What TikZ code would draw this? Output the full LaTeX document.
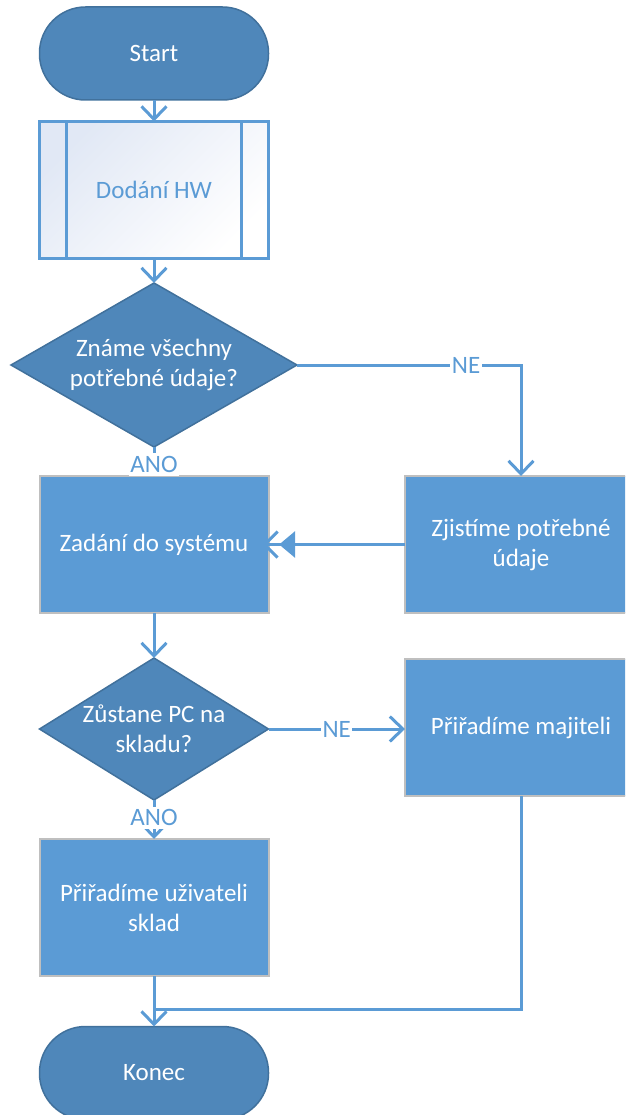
\documentclass[tikz,border=0pt]{standalone}
\usepackage{fontspec}
\setmainfont{Carlito}
\usetikzlibrary{shapes.geometric,arrows.meta}
\definecolor{conn}{HTML}{5B9BD5}
\definecolor{darkfill}{HTML}{4F87BA}
\definecolor{darkline}{HTML}{41719C}
\definecolor{procfill}{HTML}{5B9BD5}
\definecolor{procline}{HTML}{BFBFBF}
\definecolor{subtint}{HTML}{E1E8F5}

\begin{document}
\begin{tikzpicture}[x=1pt,y=-1pt,
  every node/.style={font=\fontsize{25}{30}\selectfont, align=center, inner sep=0pt, outer sep=0pt},
  terminal/.style={rectangle, rounded corners=46pt, fill=darkfill, draw=darkline,
    line width=1.5pt, minimum width=229pt, minimum height=93pt, text=white},
  process/.style={rectangle, fill=procfill, draw=procline, line width=2pt,
    minimum width=229pt, minimum height=137pt, text=white},
  subproc/.style={rectangle, draw=conn, line width=2.5pt, top color=subtint,
    bottom color=white, shading angle=45, minimum width=229pt, minimum height=137pt, text=conn},
  decision/.style={diamond, fill=darkfill, draw=darkline, line width=1.5pt},
  dectext/.style={text=white},
  plain/.style={draw=conn, line width=3pt},
  flow/.style={plain, -{Straight Barb[length=13pt,width=25pt]}},
  lbl/.style={fill=white, text=conn, inner xsep=1.5pt, inner ysep=3pt},
]
\useasboundingbox (0,0) rectangle (625,1115);
\clip (0,0) rectangle (625,1115);

% shapes
\node[terminal] (start) at (154,53.5) {Start};
\node[subproc] (dod) at (154,190) {Dodání HW};
\draw[conn, line width=2.5pt] ([xshift=27pt]dod.north west) -- ([xshift=27pt]dod.south west);
\draw[conn, line width=2.5pt] ([xshift=-27pt]dod.north east) -- ([xshift=-27pt]dod.south east);

\node[decision, minimum width=286pt, minimum height=164pt] (d1) at (154,365) {};
\node[dectext] (d1t) at (d1) {Známe všechny\\potřebné údaje?};

\node[process] (zad) at (154,544.5) {Zadání do systému};
\node[process, minimum width=232pt] (zj) at (521,544.5) {Zjistíme potřebné\\údaje};

\node[decision, minimum width=229pt, minimum height=142pt] (d2) at (154,729) {};
\node[dectext] (d2t) at (d2) {Zůstane PC na\\skladu?};

\node[process, minimum width=232pt] (pm) at (521,727.5) {Přiřadíme majiteli};
\node[process] (puz) at (154,907.5) {Přiřadíme uživateli\\sklad};

\node[terminal] (kon) at (154,1073) {Konec};
\coordinate (j) at (154,1009);

% connectors
\draw[flow] (start.south) -- (dod.north);
\draw[flow] (dod.south) -- (d1.north);
\draw[flow] (d1.south) -- node[lbl, pos=0.6] (ano1) {ANO} (zad.north);
\draw[flow] (d1.east) -- node[lbl, pos=0.755] (ne1) {NE} (d1.east -| zj.north) -- (zj.north);
\draw[plain, -{Triangle[length=16pt,width=26pt] Straight Barb[length=13pt,width=26pt,sep=-6pt]}]
  (zj.west) -- (zad.east);
\draw[flow] (zad.south) -- (d2.north);
\draw[flow] (d2.south) -- node[lbl, pos=0.46] (ano2) {ANO} (puz.north);
\draw[flow] (d2.east) -- node[lbl, pos=0.5] (ne2) {NE} (d2.east -| pm.west);
\draw[flow] (puz.south) -- (kon.north);
\draw[plain] (pm.south) |- (j);
\end{tikzpicture}
\end{document}
